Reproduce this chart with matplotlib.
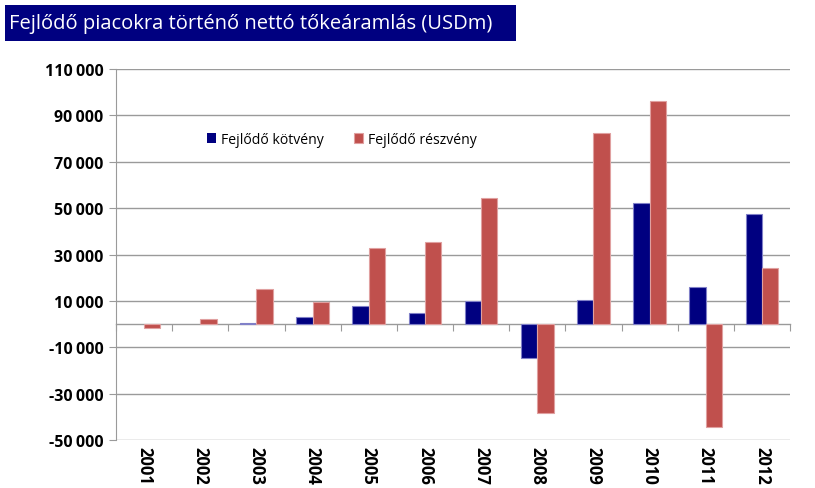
import matplotlib
matplotlib.use("Agg")
import matplotlib.pyplot as plt
import numpy as np

years = ["2001", "2002", "2003", "2004", "2005", "2006", "2007", "2008", "2009", "2010", "2011", "2012"]
kotveny = [0, 0, 500, 3100, 7800, 4900, 9900, -14800, 10200, 52400, 16000, 47400]
reszveny = [-1500, 2200, 15300, 9500, 33000, 35600, 54200, -38300, 82300, 96000, -44400, 24200]
yticks = [-50000, -30000, -10000, 10000, 30000, 50000, 70000, 90000, 110000]
title = "Fejlődő piacokra történő nettó tőkeáramlás (USDm)"
series_names = ["Fejlődő kötvény", "Fejlődő részvény"]

plt.rcParams['font.family'] = ['Open Sans', 'DejaVu Sans']

fig = plt.figure(figsize=(8.15, 4.89), dpi=100)
fig.patch.set_facecolor("white")

# title bar
fig.patches.append(plt.Rectangle((5/815, 1-42/489), (516-5)/815, 36/489,
                                 transform=fig.transFigure, facecolor="#000080",
                                 edgecolor="none"))
fig.text(9/815, 1-24/489, title, color="white", fontsize=14.5, va="center", ha="left")

ax = fig.add_axes([116/815, 1-441/489, (790-116)/815, (441-70)/489])
x = np.arange(len(years))
w = 0.29
lw_k = [0.8 if v != 0 else 0 for v in kotveny]
lw_r = [0.8 if v != 0 else 0 for v in reszveny]
ax.bar(x - w/2, kotveny, width=w, color="#000080", edgecolor="#8080c8", linewidth=lw_k,
       label=series_names[0], zorder=3)
ax.bar(x + w/2, reszveny, width=w, color="#C0504D", edgecolor="#e0a0a0", linewidth=lw_r,
       label=series_names[1], zorder=3)

ax.set_xlim(-0.5, len(years) - 0.5)
ax.set_ylim(-50000, 110000)
ax.set_yticks(yticks)
ax.set_yticklabels([f"{v:,}".replace(",", "\u2009") for v in yticks],
                   fontweight="bold", fontsize=11.5)
ax.yaxis.grid(True, color="#9a9a9a", linewidth=1.0, zorder=0)
ax.tick_params(axis="y", direction="out", length=5, color="#9a9a9a", pad=4)

for s in ["top", "right"]:
    ax.spines[s].set_visible(False)
ax.spines["left"].set_color("#9a9a9a")
ax.spines["bottom"].set_position(("data", 0))
ax.spines["bottom"].set_color("#9a9a9a")
ax.spines["bottom"].set_linewidth(1.0)

ax.set_xticks(np.arange(len(years) + 1) - 0.5)
ax.set_xticklabels([])
ax.tick_params(axis="x", direction="out", length=5, color="#9a9a9a")

trans = matplotlib.transforms.blended_transform_factory(ax.transData, ax.transAxes)
for xi, yr in zip(x, years):
    ax.text(xi, -0.015, yr, rotation=-90, ha="center", va="top", fontsize=12,
            fontweight="bold", transform=trans)

ax.legend(loc="center", bbox_to_anchor=(0.335, 0.81), ncol=2, frameon=False,
          handlelength=0.65, handleheight=0.65, handletextpad=0.3, columnspacing=2.2,
          fontsize=10.1)

fig.savefig("out.png", dpi=100)
